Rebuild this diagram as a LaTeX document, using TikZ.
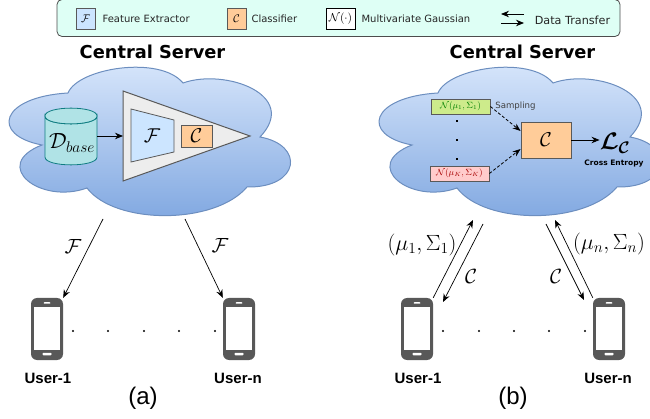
\documentclass[tikz,border=0pt]{standalone}
\usepackage{fix-cm}
\usepackage{amsmath}
\usepackage{amsfonts}
\usepackage[no-math]{fontspec}
\setsansfont{DejaVu Sans}
\newfontfamily\arialfont{Liberation Sans}
\usetikzlibrary{arrows.meta,positioning}
\newcommand{\fsz}[1]{\fontsize{#1}{#1}\selectfont}
\definecolor{cloudtop}{RGB}{218,232,252}
\definecolor{cloudbot}{RGB}{126,166,224}
\definecolor{cloudline}{RGB}{108,142,191}
\definecolor{legendbg}{RGB}{222,255,245}
\definecolor{featfill}{RGB}{204,229,255}
\definecolor{clsfill}{RGB}{255,204,153}
\definecolor{cylfill}{RGB}{176,227,230}
\definecolor{cylline}{RGB}{15,125,130}
\definecolor{greenfill}{RGB}{205,235,139}
\definecolor{redfill}{RGB}{255,204,204}
\definecolor{phonegray}{RGB}{88,88,88}

\begin{document}
\begin{tikzpicture}[
      x=1pt,y=-1pt,
      mybox/.style={
         draw=black!65,
         line width=0.8pt,
         inner sep=0pt},
      myarrow/.style={-{Stealth[length=8pt,width=6.5pt]},line width=0.7pt},
      mydash/.style={-{Stealth[length=8pt,width=6pt]},line width=0.8pt,densely dashed},
      cloudbody/.style={
         top color=cloudtop,
         bottom color=cloudbot,
         draw=cloudline,
         line width=1pt},
      legendtxt/.style={font=\sffamily\fsz{10},text=black!85,inner sep=0pt},
      titletxt/.style={font=\sffamily\bfseries\fsz{17.8}},
      usertxt/.style={font=\arialfont\bfseries\fsz{15}},
      captxt/.style={font=\arialfont\fsz{24}},
      mathtxt/.style={font=\fsz{20.5},inner sep=0pt},
      phonebody/.style={
         rectangle,
         rounded corners=6pt,
         fill=phonegray,
         minimum width=32pt,
         minimum height=62pt,
         inner sep=0pt},
      phonescreen/.style={
         rectangle,
         fill=white,
         minimum width=26.5pt,
         minimum height=43pt,
         inner sep=0pt},
      phonebtn/.style={
         rectangle,
         rounded corners=0.8pt,
         fill=white,
         inner sep=0pt},
      dot/.style={
         circle,
         fill=black,
         inner sep=0pt,
         minimum size=2.2pt}
      ]
      \useasboundingbox (0,0) rectangle (650,419);

      % legend
      \node[draw=black!70,line width=0.8pt,fill=legendbg,rounded corners=5pt,
         minimum width=563pt,minimum height=37pt,inner sep=0pt] (legend) at (338.5,18) {};
      \node[mybox,fill=featfill,minimum width=19pt,minimum height=21pt,font=\fsz{11}] (lgF) at (85.5,19) {$\mathcal{F}$};
      \node[legendtxt,right=7pt of lgF] (lgFt) {Feature Extractor};
      \node[mybox,fill=clsfill,minimum width=19pt,minimum height=21pt,font=\fsz{11}] (lgC) at (236.5,19) {$\mathcal{C}$};
      \node[legendtxt,right=5pt of lgC] (lgCt) {Classifier};
      \node[mybox,draw=black,fill=white,minimum width=29pt,minimum height=21pt,font=\fsz{11.5}] (lgN) at (340.5,19) {$\mathcal{N}(\cdot)$};
      \node[legendtxt,right=6pt of lgN] (lgNt) {Multivariate Gaussian};
      \node[legendtxt,font=\sffamily\fsz{11.2}] (lgDt) at (572.5,20) {Data Transfer};
      \coordinate (lgA) at (501,14);
      \coordinate (lgB) at (524,14);
      \coordinate (lgD) at (501,23);
      \coordinate (lgE) at (524,23);
      \draw[myarrow,line width=0.9pt] (lgB) -- (lgA);
      \draw[myarrow,line width=0.9pt] (lgD) -- (lgE);

      % the two clouds
      \foreach \cx in {0,370}
        \draw[cloudbody,shift={(\cx,0)}] (68,93)
           .. controls (78,68) and (160,55) .. (183,83)
           .. controls (225,68) and (300,95) .. (260,137)
           .. controls (305,145) and (300,188) .. (247,187)
           .. controls (215,225) and (115,225) .. (87,188)
           .. controls (40,205) and (-10,165) .. (42,145)
           .. controls (-10,135) and (0,97) .. (68,93) -- cycle;

      \node[titletxt] (titleA) at (152.5,52) {Central Server};
      \node[titletxt] (titleB) at (522.5,52) {Central Server};

      % left server
      \draw[draw=cylline,fill=cylfill,line width=0.8pt] (45,116) -- (45,157)
         .. controls (45,167.5) and (97,167.5) .. (97,157) -- (97,116)
         .. controls (97,126.5) and (45,126.5) .. (45,116) -- cycle;
      \draw[draw=cylline,fill=cylfill,line width=0.8pt] (45,116)
         .. controls (45,105.5) and (97,105.5) .. (97,116)
         .. controls (97,126.5) and (45,126.5) .. (45,116) -- cycle;
      \node[font=\fsz{22},inner sep=0pt] (baselbl) at (72,143) {$\mathcal{D}_{base}$};
      \coordinate (baseOut) at (97,136);
      \coordinate (triA) at (123,91);
      \coordinate (triB) at (250,136);
      \coordinate (triC) at (123,181);
      \coordinate (triIn) at (123,136);
      \draw[draw=black!65,fill=black!7,line width=1pt] (triA) -- (triB) -- (triC) -- cycle;
      \draw[draw=black!65,fill=featfill,line width=0.8pt] (131,109) -- (174,120) -- (174,152) -- (131,162) -- cycle;
      \node[font=\fsz{20},inner sep=0pt] (featlbl) at (152,136) {$\mathcal{F}$};
      \node[mybox,fill=clsfill,minimum width=31pt,minimum height=22pt,font=\fsz{20}] (clsA) at (196.5,136) {$\mathcal{C}$};
      \draw[myarrow,line width=0.9pt] (baseOut) -- (triIn);

      % right server
      \node[mybox,fill=greenfill,minimum width=59pt,minimum height=15pt,text=green!50!black,font=\fsz{9}] (gaussA) at (460.5,106.5) {$\mathcal{N}(\mu_1,\Sigma_1)$};
      \node[mybox,fill=redfill,minimum width=59pt,minimum height=15pt,text=red!65!black,font=\fsz{9}] (gaussB) at (459.5,173.5) {$\mathcal{N}(\mu_K,\Sigma_K)$};
      \foreach \dy in {121,140,159}
        \node[rectangle,fill=black,inner sep=0pt,minimum size=2.8pt] (gd\dy) at (457,\dy) {};
      \node[mybox,fill=clsfill,minimum width=50pt,minimum height=36pt,font=\fsz{20}] (clsB) at (546,140) {$\mathcal{C}$};
      \node[font=\sffamily\fsz{8.6},text=black!75,inner sep=0pt] (samp) at (515.5,106) {Sampling};
      \node[font=\fsz{24}\boldmath,inner sep=0pt] (loss) at (615,143) {$\mathcal{L}_{\mathcal{C}}$};
      \node[font=\sffamily\bfseries\fsz{7.5},inner sep=0pt] (ce) at (614,164) {Cross Entropy};
      \draw[mydash] (gaussA.east) -- ([yshift=9pt]clsB.west);
      \draw[mydash] (gaussB.east) -- ([yshift=-9pt]clsB.west);
      \draw[myarrow,line width=0.9pt] (clsB.east) -- (loss.west |- clsB.east);

      % phones
      \foreach \nm/\px in {ua/47,ub/239,uc/417,ud/609}{
        \node[phonebody] (\nm) at (\px,329) {};
        \node[phonescreen] (\nm s) at (\px,328.5) {};
        \node[phonebtn,minimum width=7pt,minimum height=1.5pt] (\nm t) at (\px,303) {};
        \node[phonebtn,minimum width=9pt,minimum height=2.5pt] (\nm b) at (\px,354) {};
      }
      \foreach \dx in {73,108,144,179,215,443,479,514,549,585}
        \node[dot] (dot\dx) at (\dx,331) {};

      \node[usertxt] (ual) at (48,378) {User-1};
      \node[usertxt] (ubl) at (238,378) {User-n};
      \node[usertxt] (ucl) at (418,378) {User-1};
      \node[usertxt] (udl) at (608,378) {User-n};
      \node[captxt] (capA) at (143,398) {(a)};
      \node[captxt] (capB) at (513,398) {(b)};

      % connectors
      \coordinate (a1) at (103,219);
      \coordinate (a2) at (185,219);
      \coordinate (b1) at (473,220);
      \coordinate (b2) at (483,224);
      \coordinate (b3) at (546,224);
      \coordinate (b4) at (555,220);
      \coordinate (c2) at (443,302);
      \coordinate (c3) at (584,300);
      \draw[myarrow] (a1) -- (ua.north east);
      \draw[myarrow] (a2) -- (ub.north west);
      \draw[myarrow] (uc.north east) -- (b1);
      \draw[myarrow] (b2) -- (c2);
      \draw[myarrow] (b3) -- (c3);
      \draw[myarrow] (ud.north west) -- (b4);

      \node[mathtxt] (fa) at (73,246) {$\mathcal{F}$};
      \node[mathtxt] (fb) at (220,245) {$\mathcal{F}$};
      \node[mathtxt] (ca) at (471,276) {$\mathcal{C}$};
      \node[mathtxt] (cb) at (556,276) {$\mathcal{C}$};
      \node[mathtxt,font=\fsz{22}] (ma) at (422,245) {$(\mu_1,\Sigma_1)$};
      \node[mathtxt,font=\fsz{22}] (mb) at (609,244) {$(\mu_n,\Sigma_n)$};
    \end{tikzpicture}
\end{document}
